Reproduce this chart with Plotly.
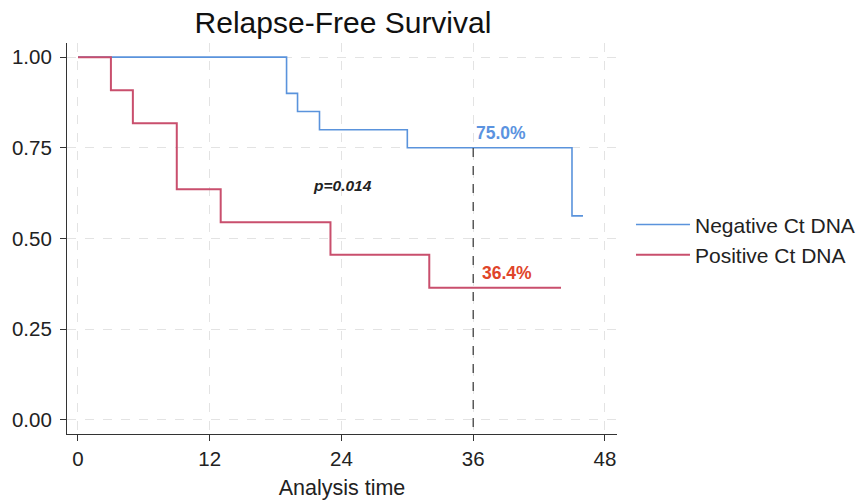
import plotly.graph_objects as go

# Data
neg_time = [0, 19, 20, 22, 30, 45, 46]
neg_surv = [1.0, 0.90, 0.85, 0.80, 0.75, 0.5625, 0.5625]
pos_time = [0, 3, 5, 9, 13, 23, 32, 44]
pos_surv = [1.0, 0.909, 0.818, 0.636, 0.545, 0.455, 0.364, 0.364]

x_ticks = [0, 12, 24, 36, 48]
y_ticks = [0.0, 0.25, 0.50, 0.75, 1.00]
y_tick_labels = ["0.00", "0.25", "0.50", "0.75", "1.00"]

landmark_time = 36
neg_landmark = 0.75
pos_landmark = 0.364
p_value_text = "p=0.014"

blue = "#5a93dc"
red = "#c94f6d"
font_family = "Liberation Sans, Arial, Helvetica, sans-serif"

fig = go.Figure()
fig.add_trace(go.Scatter(x=neg_time, y=neg_surv, mode="lines", line_shape="hv",
                         line=dict(color=blue, width=1.6), name="Negative Ct DNA"))
fig.add_trace(go.Scatter(x=pos_time, y=pos_surv, mode="lines", line_shape="hv",
                         line=dict(color=red, width=2), name="Positive Ct DNA"))
fig.add_trace(go.Scatter(x=[landmark_time, landmark_time], y=[-0.02, neg_landmark], mode="lines",
                         line=dict(color="#333333", width=1.2, dash="dash"), showlegend=False,
                         hoverinfo="skip"))

fig.add_annotation(x=38.5, y=0.79, text="<b>75.0%</b>", showarrow=False,
                   font=dict(color="#5b93e0", size=17.5, family=font_family))
fig.add_annotation(x=39.1, y=0.405, text="<b>36.4%</b>", showarrow=False,
                   font=dict(color="#e0452a", size=17.5, family=font_family))
fig.add_annotation(x=24.1, y=0.647, text="<b><i>" + p_value_text + "</i></b>", showarrow=False,
                   font=dict(color="#222222", size=15.5, family=font_family))

fig.update_layout(
    width=864, height=504,
    margin=dict(l=67, r=247, t=43, b=70),
    paper_bgcolor="white", plot_bgcolor="white",
    font=dict(family=font_family, size=20.5, color="#222222"),
    title=dict(text="Relapse-Free Survival", x=0.397, xanchor="center",
               y=0.956, yanchor="middle", font=dict(size=30, color="#111111")),
    legend=dict(xref="container", yref="container", x=0.7303, y=0.524,
                xanchor="left", yanchor="middle", itemwidth=54,
                font=dict(size=21, color="#222222"), tracegroupgap=0,
                bgcolor="rgba(0,0,0,0)"),
)
fig.update_xaxes(range=[-1, 49.1], tickvals=x_ticks, ticks="outside", ticklen=6,
                 automargin=False,
                 showline=True, linecolor="#333333", linewidth=1.2, tickcolor="#333333",
                 showgrid=True, gridcolor="#e3e3e3", griddash="dash", gridwidth=1,
                 zeroline=False, title=dict(text="Analysis time", font=dict(size=21.5), standoff=11))
fig.update_yaxes(range=[-0.039, 1.039], tickvals=y_ticks, ticktext=y_tick_labels,
                 ticks="outside", ticklen=6, ticklabelstandoff=4, automargin=False,
                 showline=True, linecolor="#333333", linewidth=1.2, tickcolor="#333333",
                 showgrid=True, gridcolor="#e3e3e3", griddash="dash", gridwidth=1,
                 zeroline=False)

fig.write_html("out.html", config={"displayModeBar": False},
               post_script="document.body.style.margin='0';")
